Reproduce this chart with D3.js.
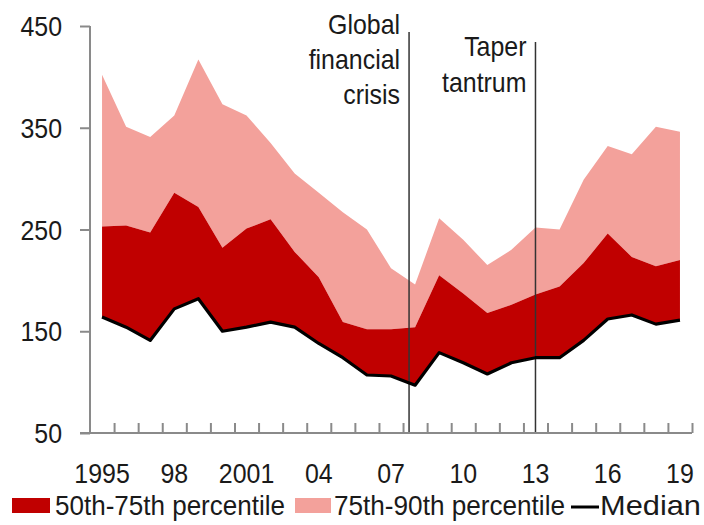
<!DOCTYPE html>
<html><head><meta charset="utf-8">
<script src="https://cdn.jsdelivr.net/npm/d3@7"></script>
<style>body{margin:0;background:#fff}text{font-family:"Liberation Sans",Arial,sans-serif;fill:#1a1a1a}</style></head>
<body><svg id="c" width="704" height="525"></svg>
<script>
const years = [1995,1996,1997,1998,1999,2000,2001,2002,2003,2004,2005,2006,2007,2008,2009,2010,2011,2012,2013,2014,2015,2016,2017,2018,2019];
const median = [164,154,141,172,182,150,154,159,154,138,124,107,106,97,129,119,108,119,124,124,141,162,166,157,161];
const p75 = [253,254,247,286,272,232,251,260,228,203,159,152,152,154,205,187,168,176,186,194,217,246,223,214,220];
const p90 = [402,351,341,362,417,373,362,335,305,286,267,250,212,196,261,240,215,230,252,250,299,332,324,351,346];
const xLabels = {1995:"1995",1998:"98",2001:"2001",2004:"04",2007:"07",2010:"10",2013:"13",2016:"16",2019:"19"};
const yTicks = [50,150,250,350,450];
const events = [{year:2007.75, label:["Global","financial","crisis"]},{year:2013, label:["Taper","tantrum"]}];
const legendItems = ["50th-75th percentile","75th-90th percentile","Median"];

const svg = d3.select("#c");
const FS = 28, SX = 0.89;
const x = d3.scaleBand().domain(years).range([90,692]).padding(0);
const bw = x.bandwidth();
const cx = yr => x(yr) + bw/2;
const xl = d3.scaleLinear().domain([1995,2019]).range([cx(1995), cx(2019)]);
const y = d3.scaleLinear().domain([50,450]).range([433,26]);

function label(g, px, py, txt, anchor, sx){
  return g.append("g").attr("transform",`translate(${px},${py}) scale(${sx||SX},1)`)
   .append("text").attr("text-anchor",anchor||"start").attr("font-size",FS).text(txt);
}

const data = years.map((yr,i)=>({yr, m:median[i], a:p75[i], b:p90[i]}));

svg.append("path").datum(data).attr("fill","#f3a19b")
  .attr("d", d3.area().x(d=>cx(d.yr)).y0(d=>y(d.a)).y1(d=>y(d.b)));
svg.append("path").datum(data).attr("fill","#c00000")
  .attr("d", d3.area().x(d=>cx(d.yr)).y0(d=>y(d.m)).y1(d=>y(d.a)));

// event lines
const evTop = [32, 42];
events.forEach((e,k)=>{
  svg.append("line").attr("x1",xl(e.year)).attr("x2",xl(e.year))
    .attr("y1",evTop[k]).attr("y2",y(50)).attr("stroke","#333").attr("stroke-width",1.5);
});
// event labels
[[34,69,104],[56,92]].forEach((bl,k)=>{
  const e = events[k];
  e.label.forEach((t,j)=> label(svg, xl(e.year)-9, bl[j], t, "end"));
});

svg.append("path").datum(data).attr("fill","none").attr("stroke","#000").attr("stroke-width",3.2)
  .attr("stroke-linejoin","round")
  .attr("d", d3.line().x(d=>cx(d.yr)).y(d=>y(d.m)));

// y axis
const ya = svg.append("g").attr("transform","translate(90,0)")
  .call(d3.axisLeft(y).tickValues(yTicks).tickSize(10).tickFormat(""));
ya.selectAll("path,line").attr("stroke","#8a8a8a").attr("stroke-width",2);
ya.select(".domain").attr("d","M0,"+y(450)+"V"+y(50));
yTicks.forEach(v=> label(svg, 62, y(v)+10, String(v), "end"));

// x axis
const xb = d3.scaleLinear().domain([0,years.length]).range([90,692]);
const xa = svg.append("g").attr("transform",`translate(0,${y(50)})`)
  .call(d3.axisBottom(xb).tickValues(d3.range(1,years.length+1)).tickSize(-10).tickFormat(""));
xa.selectAll("path,line").attr("stroke","#8a8a8a").attr("stroke-width",2);
xa.select(".domain").attr("d","M80,0H692");
years.forEach(yr=>{ if(xLabels[yr]) label(svg, cx(yr), 483, xLabels[yr], "middle"); });

// legend
svg.append("rect").attr("x",12).attr("y",498).attr("width",38).attr("height",15).attr("fill","#c00000");
label(svg, 55, 515, legendItems[0], "start", 1).attr("textLength",230).attr("lengthAdjust","spacingAndGlyphs");
svg.append("rect").attr("x",295).attr("y",498).attr("width",36).attr("height",15).attr("fill","#f3a19b");
label(svg, 334, 515, legendItems[1], "start", 1).attr("textLength",231).attr("lengthAdjust","spacingAndGlyphs");
svg.append("line").attr("x1",571).attr("x2",599).attr("y1",507).attr("y2",507).attr("stroke","#000").attr("stroke-width",3);
label(svg, 600, 515, legendItems[2], "start", 1).attr("textLength",101).attr("lengthAdjust","spacingAndGlyphs");
</script></body></html>
